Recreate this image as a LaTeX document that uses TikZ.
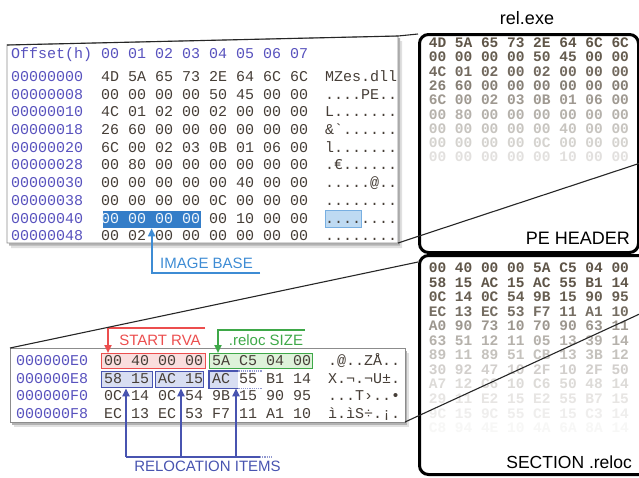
\documentclass[tikz,border=0pt]{standalone}
\usepackage{fontspec}
\setmainfont{Liberation Sans}
\newfontfamily\hexfont{Liberation Mono}
\usetikzlibrary{arrows.meta}
\definecolor{offc}{RGB}{88,82,190}
\definecolor{hexc}{RGB}{70,62,55}
\definecolor{peh}{RGB}{95,85,72}
\definecolor{imgb}{RGB}{62,140,212}
\definecolor{selb}{RGB}{52,125,200}
\definecolor{aschl}{RGB}{190,218,242}
\definecolor{redc}{RGB}{236,78,78}
\definecolor{redf}{RGB}{250,222,222}
\definecolor{grnc}{RGB}{62,168,72}
\definecolor{grnf}{RGB}{222,242,218}
\definecolor{relc}{RGB}{72,84,176}
\definecolor{relf}{RGB}{216,222,242}
\begin{document}
\begin{tikzpicture}[x=1pt,y=-1pt,
  mono/.style={font=\hexfont\fontsize{15}{15}\selectfont, inner sep=0pt, anchor=base west},
  offtxt/.style={mono, text=offc},
  hextxt/.style={mono, text=hexc},
  boxhex/.style={font=\hexfont\bfseries\fontsize{14.5}{14.5}\selectfont, inner sep=0pt, anchor=base west},
  lbl/.style={font=\fontsize{15}{15}\selectfont, inner sep=0pt, anchor=base},
  zoomline/.style={black!85, line width=1.1pt},
  tip/.style={-{Triangle[length=8pt,width=7pt]}},
  hl/.style={inner sep=0pt, anchor=north west, line width=1.3pt},
]
\useasboundingbox (0,0) rectangle (639,477);
\clip (0,0) rectangle (639,477);

% ---------- top-left hex panel ----------
\coordinate (tpTL) at (7,45);
\coordinate (tpTR) at (398,36);
\coordinate (tpBR) at (398,243);
\coordinate (tpBL) at (7,243);
\fill[black!12] (11,50) -- (402,41) -- (402,248) -- (11,248) -- cycle;
\fill[black!30] (9,47) -- (400,38) -- (400,245.5) -- (9,245.5) -- cycle;
\filldraw[fill=white, draw=black!45, line width=0.8pt] (tpTL) -- (tpTR) -- (tpBR) -- (tpBL) -- cycle;

\node[offtxt] (hdr) at (11,58.4) {Offset(h)};
\node[offtxt] (hdrcols) at (101,58.4) {00 01 02 03 04 05 06 07};

\foreach \r/\off/\hx in {
  0/00000000/{4D 5A 65 73 2E 64 6C 6C},
  1/00000008/{00 00 00 00 50 45 00 00},
  2/00000010/{4C 01 02 00 02 00 00 00},
  3/00000018/{26 60 00 00 00 00 00 00},
  4/00000020/{6C 00 02 03 0B 01 06 00},
  5/00000028/{00 80 00 00 00 00 00 00},
  6/00000030/{00 00 00 00 00 40 00 00},
  7/00000038/{00 00 00 00 0C 00 00 00},
  8/00000040/{},
  9/00000048/{00 02 00 00 00 00 00 00}}{
  \pgfmathsetmacro\yy{77+17.7*\r+4.4}
  \node[offtxt] (to\r) at (11,\yy) {\off};
  \node[hextxt] (th\r) at (101,\yy) {\hx};
}
% highlighted image base
\node[hl, fill=selb, minimum width=98pt, minimum height=17pt] (selbox) at (102,210) {};
\node[mono, text=white!92!selb] (th8a) at (101,223) {00 00 00 00};
\node[hextxt] (th8b) at (209,223) {00 10 00 00};
\node[hl, fill=aschl, draw=imgb!70, line width=0.8pt, minimum width=36pt, minimum height=17pt] (aschbox) at (325,210) {};

\node[hextxt] (ta0) at (325,81.4) {MZes.dll};
\node[hextxt] (ta1) at (325,99.1) {....PE..};
\node[hextxt] (ta2) at (325,116.8) {L.......};
\node[hextxt] (ta3) at (325,134.5) {\&\symbol{96}......};
\node[hextxt] (ta4) at (325,152.2) {l.......};
\node[hextxt] (ta5) at (325,169.9) {.€......};
\node[hextxt] (ta6) at (325,187.6) {.....@..};
\node[hextxt] (ta7) at (325,205.3) {........};
\node[hextxt] (ta8) at (325,223.0) {........};
\node[hextxt] (ta9) at (325,240.7) {........};

% IMAGE BASE callout
\coordinate (ibE) at (260,273);
\draw[imgb, line width=2pt, tip] (ibE) -- (ibE -| selbox.south) -- (selbox.south);
\node[lbl, text=imgb] (imgbase) at (206.5,268.4) {IMAGE BASE};

% ---------- bottom-left hex panel ----------
\coordinate (bpTL) at (10,348);
\coordinate (bpBR) at (405,422);
\fill[black!12] (14,353) rectangle (409,427);
\fill[black!30] (12,350.5) rectangle (407,424.5);
\node[hl, fill=white, draw=black!45, line width=0.8pt, minimum width=395pt, minimum height=74pt] (bp) at (bpTL) {};

\node[hl, fill=redf, draw=redc, minimum width=104pt, minimum height=15pt] (rvabox) at (101,353) {};
\node[hl, fill=grnf, draw=grnc, minimum width=103pt, minimum height=15pt] (sizebox) at (209,353) {};
\node[hl, fill=relf, draw=relc, minimum width=51pt, minimum height=16pt] (ri1) at (101,371) {};
\node[hl, fill=relf, draw=relc, minimum width=48pt, minimum height=16pt] (ri2) at (155,371) {};
\node[hl, fill=relf, minimum width=28pt, minimum height=16pt] (ri3) at (209,371) {};
\draw[relc, line width=1.3pt] (ri3.north east) -- (ri3.north west) -- (ri3.south west) -- (ri3.south east);
\draw[relc!60, line width=1.3pt, dash pattern=on 1.2pt off 1pt] (ri3.north east) -- ++(24,0);
\draw[relc!60, line width=1.3pt, dash pattern=on 1.2pt off 1pt] (ri3.south east) -- ++(24,0);

\foreach \r/\off/\hx in {
  0/000000E0/{00 40 00 00 5A C5 04 00},
  1/000000E8/{58 15 AC 15 AC 55 B1 14},
  2/000000F0/{0C 14 0C 54 9B 15 90 95},
  3/000000F8/{EC 13 EC 53 F7 11 A1 10}}{
  \pgfmathsetmacro\yy{361+17.7*\r+4.4}
  \node[offtxt] (bo\r) at (16,\yy) {\off};
  \node[hextxt] (bh\r) at (104,\yy) {\hx};
}
\node[hextxt] (ba0) at (328,365.4) {.@..ZÅ..};
\node[hextxt] (ba1) at (328,383.1) {X.¬.¬U±.};
\node[hextxt] (ba2) at (328,400.8) {...T›..•};
\node[hextxt] (ba3) at (328,418.5) {ì.ìS÷.¡.};

% START RVA
\coordinate (rvaT) at (108,328);
\coordinate (rvaE) at (205,328);
\draw[redc, line width=2pt, tip] (rvaE) -- (rvaT) -- (rvaT |- rvabox.north);
\node[lbl, text=redc] (rvalbl) at (160,345.4) {START RVA};
% .reloc SIZE
\coordinate (szT) at (218,330);
\coordinate (szE) at (305,330);
\draw[grnc, line width=2pt, tip] (szE) -- (szT) -- (szT |- sizebox.north);
\node[lbl, text=grnc] (szlbl) at (266,345.4) {.reloc SIZE};
% RELOCATION ITEMS
\coordinate (riA) at (126,457);
\coordinate (riB) at (181,457);
\coordinate (riC) at (236,457);
\coordinate (riE) at (260,457);
\draw[relc, line width=2pt] (riA) -- (riE);
\draw[relc!60, line width=2pt, dash pattern=on 1.2pt off 1pt] (riE) -- ++(13,0);
\draw[relc, line width=2pt, tip] (riA) -- (riA |- ri1.south);
\draw[relc, line width=2pt, tip] (riB) -- (riB |- ri2.south);
\draw[relc, line width=2pt, tip] (riC) -- (riC |- ri3.south);
\node[lbl, text=relc] (rilbl) at (207.5,471.4) {RELOCATION ITEMS};

% ---------- zoom lines behind boxes ----------
\coordinate (secL) at (418,262);
\draw[zoomline] (tpTL) -- (tpTR) -- (418,34);
\draw[zoomline] (bpTL) -- (secL);

% ---------- right side ----------
\node[font=\fontsize{18}{18}\selectfont, inner sep=0pt, anchor=base] (title) at (527,24.4) {rel.exe};
\node[draw=black, fill=white, line width=3pt, rounded corners=9pt, minimum width=219pt, minimum height=218pt, anchor=north west, inner sep=0pt] (pe) at (418,33) {};
\node[draw=black, fill=white, line width=3pt, rounded corners=9pt, minimum width=235pt, minimum height=219pt, anchor=north west, inner sep=0pt] (sec) at (418,254) {};

\foreach \r/\f/\hx in {
  0/100/{4D 5A 65 73 2E 64 6C 6C},
  1/96/{00 00 00 00 50 45 00 00},
  2/88/{4C 01 02 00 02 00 00 00},
  3/76/{26 60 00 00 00 00 00 00},
  4/60/{6C 00 02 03 0B 01 06 00},
  5/46/{00 80 00 00 00 00 00 00},
  6/35/{00 00 00 00 00 40 00 00},
  7/26/{00 00 00 00 0C 00 00 00},
  8/18/{00 00 00 00 00 10 00 00}}{
  \pgfmathsetmacro\yy{43.3+14.3*\r+4.2}
  \node[boxhex, text=peh!\f] (ph\r) at (428.6,\yy) {\hx};
}
\foreach \r/\f/\hx in {
  0/100/{00 40 00 00 5A C5 04 00},
  1/100/{58 15 AC 15 AC 55 B1 14},
  2/95/{0C 14 0C 54 9B 15 90 95},
  3/86/{EC 13 EC 53 F7 11 A1 10},
  4/62/{A0 90 73 10 70 90 63 11},
  5/46/{63 51 12 11 05 13 39 14},
  6/36/{89 11 89 51 CB 13 3B 12},
  7/28/{30 92 47 10 2F 10 2F 50},
  8/21/{A7 12 C6 10 C6 50 48 14},
  9/15/{29 11 E2 15 E2 55 B7 15},
  10/10/{9C 15 9C 55 CE 15 C3 14},
  11/5/{C8 94 4E 10 4A 6A 8A 14}}{
  \pgfmathsetmacro\yy{268.3+14.55*\r+4.2}
  \node[boxhex, text=peh!\f] (sh\r) at (428.6,\yy) {\hx};
}
\node[font=\fontsize{18}{18}\selectfont, inner sep=0pt, anchor=base east] (pelbl) at (630,244.4) {PE HEADER};
\node[font=\fontsize{17.5}{17.5}\selectfont, inner sep=0pt, anchor=base east] (seclbl) at (632,468.3) {SECTION .reloc};

% ---------- zoom lines over boxes ----------
\coordinate (peR) at (645,161.5);
\coordinate (secR) at (645,311.5);
\draw[zoomline] (tpBR) -- (peR);
\draw[zoomline] (bpBR) -- (secR);
\end{tikzpicture}
\end{document}
